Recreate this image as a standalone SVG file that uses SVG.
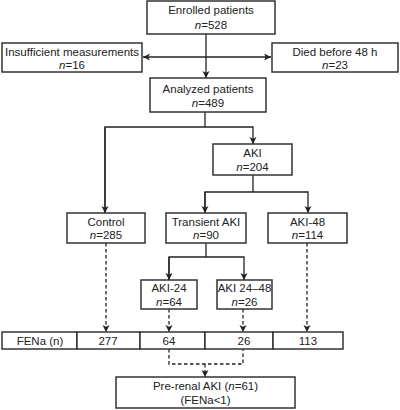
<svg xmlns="http://www.w3.org/2000/svg" width="400" height="410" viewBox="0 0 400 410">
<defs>
<marker id="ah" markerUnits="userSpaceOnUse" markerWidth="8" markerHeight="8" refX="7" refY="3.5" orient="auto">
<path d="M0,0 L7,3.5 L0,7 L1.8,3.5 z" fill="#222"/>
</marker>
</defs>
<style>
rect{fill:#fff;stroke:#333;stroke-width:1.5}
text{font-family:"Liberation Sans",Arial,sans-serif;font-size:11.5px;fill:#222;text-anchor:middle}
.i{font-style:italic}
#connectors path,#connectors line{fill:none;stroke:#222;stroke-width:1.3}
#connectors .d{stroke-dasharray:3.5,2.5}
</style>
<rect x="0" y="0" width="400" height="410" style="fill:#fff;stroke:none"/>
<g id="connectors">
<line x1="206" y1="34" x2="206" y2="78" marker-end="url(#ah)"/>
<line x1="206" y1="57" x2="143" y2="57" marker-end="url(#ah)"/>
<line x1="206" y1="57" x2="271" y2="57" marker-end="url(#ah)"/>
<line x1="205" y1="112" x2="205" y2="127"/>
<path d="M105,213 L105,127 L253,127 L253,144" marker-end="url(#ah)"/>
<line x1="105" y1="127" x2="105" y2="213" marker-end="url(#ah)"/>
<line x1="253" y1="175" x2="253" y2="192"/>
<path d="M205,213 L205,192 L308,192 L308,213" marker-end="url(#ah)"/>
<line x1="205" y1="192" x2="205" y2="213" marker-end="url(#ah)"/>
<line x1="206" y1="243" x2="206" y2="257"/>
<path d="M169,280 L169,257 L244,257 L244,280" marker-end="url(#ah)"/>
<line x1="169" y1="257" x2="169" y2="280" marker-end="url(#ah)"/>
<line class="d" x1="106" y1="243" x2="106" y2="332" marker-end="url(#ah)"/>
<line class="d" x1="307" y1="243" x2="307" y2="332" marker-end="url(#ah)"/>
<line class="d" x1="169" y1="309" x2="169" y2="332" marker-end="url(#ah)"/>
<line class="d" x1="243" y1="309" x2="243" y2="332" marker-end="url(#ah)"/>
<path class="d" d="M169,349 L169,364 L243,364 L243,349"/>
<line class="d" x1="205" y1="364" x2="205" y2="377" marker-end="url(#ah)"/>
</g>
<g id="enrolled">
<rect x="147" y="1" width="128" height="33"/>
<text x="211" y="14">Enrolled patients</text>
<text x="211" y="29"><tspan class="i">n</tspan>=528</text>
</g>
<g id="insufficient">
<rect x="2" y="43" width="140" height="29"/>
<text x="72" y="56">Insufficient measurements</text>
<text x="72" y="69"><tspan class="i">n</tspan>=16</text>
</g>
<g id="died">
<rect x="272" y="43" width="126" height="29"/>
<text x="335" y="56">Died before 48 h</text>
<text x="335" y="69"><tspan class="i">n</tspan>=23</text>
</g>
<g id="analyzed">
<rect x="150" y="78" width="116" height="34"/>
<text x="208" y="93">Analyzed patients</text>
<text x="208" y="107"><tspan class="i">n</tspan>=489</text>
</g>
<g id="aki">
<rect x="213" y="144" width="79" height="31"/>
<text x="252.5" y="157">AKI</text>
<text x="252.5" y="171"><tspan class="i">n</tspan>=204</text>
</g>
<g id="control">
<rect x="67" y="213" width="78" height="30"/>
<text x="106" y="226">Control</text>
<text x="106" y="239"><tspan class="i">n</tspan>=285</text>
</g>
<g id="transient">
<rect x="166" y="213" width="80" height="30"/>
<text x="206" y="226">Transient AKI</text>
<text x="206" y="239"><tspan class="i">n</tspan>=90</text>
</g>
<g id="aki48">
<rect x="268" y="213" width="79" height="30"/>
<text x="307.5" y="226">AKI-48</text>
<text x="307.5" y="239"><tspan class="i">n</tspan>=114</text>
</g>
<g id="aki24">
<rect x="141" y="280" width="56" height="29"/>
<text x="169" y="292">AKI-24</text>
<text x="169" y="306"><tspan class="i">n</tspan>=64</text>
</g>
<g id="aki2448">
<rect x="217" y="280" width="55" height="29"/>
<text x="244.5" y="292">AKI 24–48</text>
<text x="244.5" y="306"><tspan class="i">n</tspan>=26</text>
</g>
<g id="fena">
<rect x="2" y="332" width="75" height="17"/>
<rect x="77" y="332" width="63" height="17"/>
<rect x="140" y="332" width="65" height="17"/>
<rect x="205" y="332" width="68" height="17"/>
<rect x="273" y="332" width="70" height="17"/>
<text x="40" y="344.5">FENa (n)</text>
<text x="108" y="344.5">277</text>
<text x="169" y="344.5">64</text>
<text x="244" y="344.5">26</text>
<text x="308" y="344.5">113</text>
</g>
<g id="prerenal">
<rect x="116" y="377" width="179" height="31"/>
<text x="205.5" y="390">Pre-renal AKI (<tspan class="i">n</tspan>=61)</text>
<text x="205.5" y="404">(FENa&lt;1)</text>
</g>
</svg>
